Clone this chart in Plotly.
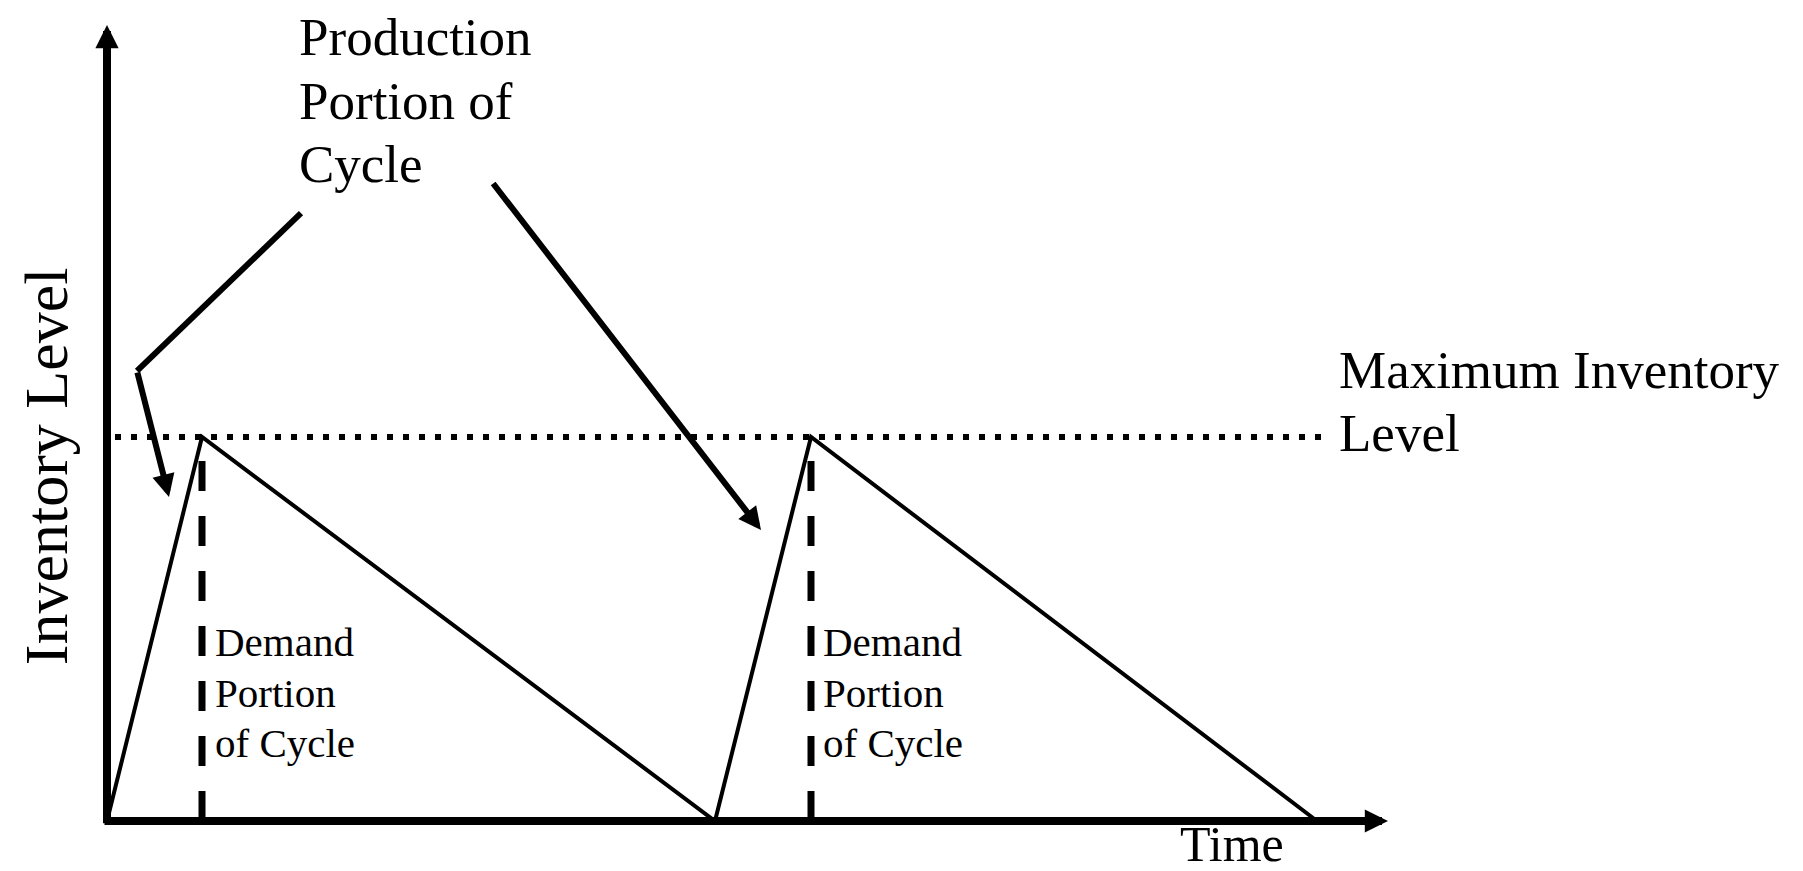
import plotly.graph_objects as go

# ---------------- data (abstract units: time, inventory level) ----------------
cycle_time = [0.0, 9.5, 60.8, 70.4, 121.0]      # time of each vertex of the sawtooth
inventory = [0, 100, 0, 100, 0]                  # inventory at each vertex
max_level = 100                                  # maximum inventory level
peak_times = [9.5, 70.4]                         # end of production portions
dotted_span = [0.8, 121.9]                       # extent of max-level reference line
x_axis_end = 128.1
y_axis_end = 207.3

# pointer arrows (time, inventory)
arrow1_t = [19.4, 3.0]
arrow1_inv = [158.3, 117.2]
arrow1_tip = [6.2, 84.4]
arrow2_start = [38.5, 166.4]
arrow2_tip = [65.4, 75.8]

# text labels
prod_lines = ["Production", "Portion of", "Cycle"]
prod_t = 19.0
prod_inv = [204.2, 187.5, 171.1]
max_lines = ["Maximum Inventory", "Level"]
max_t = 123.0
max_inv = [117.4, 101.0]
demand_lines = ["Demand", "Portion", "of Cycle"]
demand_t = [10.6, 71.4]
demand_inv = [46.6, 33.3, 20.3]
time_label = "Time"
time_pos = [112.5, -6.0]
y_label = "Inventory Level"
y_label_pos = [-6.1, 92.4]

# ---------------- layout constants ----------------
W, H = 1803, 871
ORIGIN_PX = (107, 821)
PX_PER_T = 10.0
PX_PER_INV = 3.84
FONT = "Liberation Serif"

x_range = [-ORIGIN_PX[0] / PX_PER_T, (W - ORIGIN_PX[0]) / PX_PER_T]
y_range = [-(H - ORIGIN_PX[1]) / PX_PER_INV, ORIGIN_PX[1] / PX_PER_INV]

fig = go.Figure()

# max inventory dotted line
fig.add_trace(go.Scatter(x=dotted_span, y=[max_level, max_level], mode="lines",
                         line=dict(color="black", width=6, dash="6px,10px"),
                         hoverinfo="skip"))

# dashed verticals at peaks
for t in peak_times:
    fig.add_trace(go.Scatter(x=[t, t], y=[0, max_level], mode="lines",
                             line=dict(color="black", width=7, dash="30px,25px"),
                             hoverinfo="skip"))

# sawtooth
fig.add_trace(go.Scatter(x=cycle_time, y=inventory, mode="lines",
                         line=dict(color="black", width=4), hoverinfo="skip"))

# first pointer line segment
fig.add_trace(go.Scatter(x=arrow1_t, y=arrow1_inv, mode="lines",
                         line=dict(color="black", width=6), hoverinfo="skip"))

ann = []
# axes with arrowheads
ann.append(dict(x=0, y=y_axis_end, ax=0, ay=-1.0, xref="x", yref="y", axref="x", ayref="y",
                text="", showarrow=True, arrowhead=2, arrowsize=0.58, arrowwidth=8,
                arrowcolor="black"))
ann.append(dict(x=x_axis_end, y=0, ax=-0.4, ay=0, xref="x", yref="y", axref="x", ayref="y",
                text="", showarrow=True, arrowhead=2, arrowsize=0.58, arrowwidth=8,
                arrowcolor="black"))
# pointer arrows
ann.append(dict(x=arrow1_tip[0], y=arrow1_tip[1], ax=arrow1_t[1], ay=arrow1_inv[1],
                xref="x", yref="y", axref="x", ayref="y", text="", showarrow=True,
                arrowhead=2, arrowsize=0.75, arrowwidth=6, arrowcolor="black"))
ann.append(dict(x=arrow2_tip[0], y=arrow2_tip[1], ax=arrow2_start[0], ay=arrow2_start[1],
                xref="x", yref="y", axref="x", ayref="y", text="", showarrow=True,
                arrowhead=2, arrowsize=0.75, arrowwidth=6, arrowcolor="black"))

# texts
for line, yv in zip(prod_lines, prod_inv):
    ann.append(dict(x=prod_t, y=yv, xref="x", yref="y", text=line, showarrow=False,
                    xanchor="left", yanchor="middle",
                    font=dict(family=FONT, size=53, color="black")))
for line, yv in zip(max_lines, max_inv):
    ann.append(dict(x=max_t, y=yv, xref="x", yref="y", text=line, showarrow=False,
                    xanchor="left", yanchor="middle",
                    font=dict(family=FONT, size=53, color="black")))
for tx in demand_t:
    for line, yv in zip(demand_lines, demand_inv):
        ann.append(dict(x=tx, y=yv, xref="x", yref="y", text=line, showarrow=False,
                        xanchor="left", yanchor="middle",
                        font=dict(family=FONT, size=41, color="black")))
ann.append(dict(x=time_pos[0], y=time_pos[1], xref="x", yref="y", text=time_label,
                showarrow=False, xanchor="center", yanchor="middle",
                font=dict(family=FONT, size=50, color="black")))
ann.append(dict(x=y_label_pos[0], y=y_label_pos[1], xref="x", yref="y", text=y_label,
                showarrow=False, xanchor="center", yanchor="middle", textangle=-90,
                font=dict(family=FONT, size=62, color="black")))

fig.update_layout(
    width=W, height=H,
    margin=dict(l=0, r=0, t=0, b=0, pad=0),
    paper_bgcolor="white", plot_bgcolor="white",
    showlegend=False,
    xaxis=dict(visible=False, range=x_range, fixedrange=True),
    yaxis=dict(visible=False, range=y_range, fixedrange=True),
    annotations=ann,
)

fig.write_html("out.html", config={"displayModeBar": False},
               post_script="document.body.style.margin='0';")
